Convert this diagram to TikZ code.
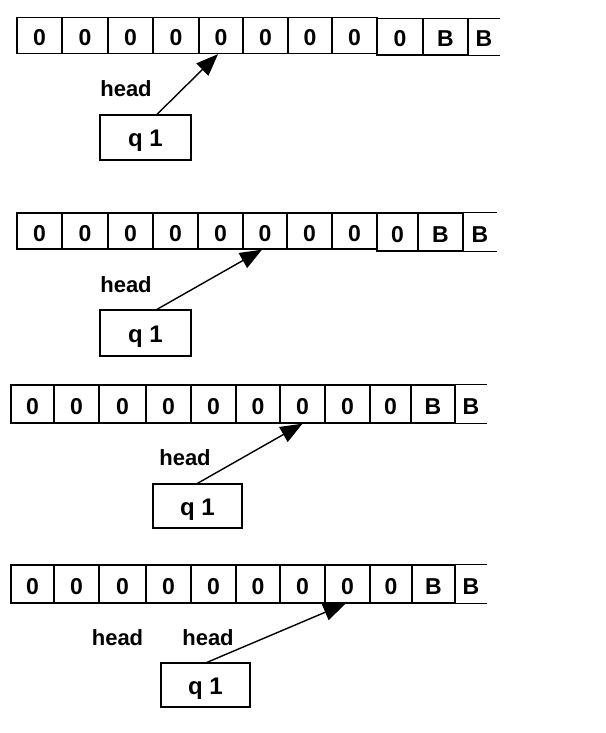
\documentclass[tikz,border=0pt]{standalone}
\usepackage{fontspec}
\setmainfont{Liberation Sans}
\usetikzlibrary{arrows.meta,calc}
\tikzset{
  cell/.style={draw, line width=1.3pt, inner sep=0pt, minimum height=#1,
    text height=25pt, text depth=5pt, font=\fontsize{23}{23}\selectfont\bfseries},
  cell/.default=36pt,
  opencell/.style={inner sep=0pt, minimum height=#1,
    text height=25pt, text depth=5pt, font=\fontsize{23}{23}\selectfont\bfseries},
  opencell/.default=36pt,
  edge/.style={line width=1.3pt},
  statebox/.style={draw, line width=1.3pt, inner sep=0pt, text height=20pt, text depth=2pt,
    font=\fontsize{24}{24}\selectfont\bfseries},
  headlbl/.style={anchor=base, inner sep=0pt, font=\fontsize{22}{22}\selectfont\bfseries},
  arr/.style={line width=1.4pt, -{Triangle[length=22pt,width=17pt]}},
}
\begin{document}
\begin{tikzpicture}[x=1pt,y=-1pt]
\useasboundingbox (0,0) rectangle (605,733);
% ---------- Row 1 ----------
\foreach \a/\b [count=\i] in {17/62,62/108,108/153,153/199,199/243,243/288,288/332,332/377}{
  \node[cell, minimum width=\b-\a] (r1c\i) at ({(\a+\b)/2},35.5) {0};
}
\node[cell=36.5pt, minimum width=46] (r1c9) at (400,36.75) {0};
\node[cell=36.5pt, minimum width=45] (r1c10) at (445.5,36.75) {B};
\node[opencell=36.5pt, minimum width=32] (r1c11) at (484,36.75) {B};
\draw[edge] (r1c11.north west) -- (r1c11.north east) (r1c11.south west) -- (r1c11.south east);
\node[statebox, minimum width=91, minimum height=45] (q1) at (145.5,137.5) {q 1};
\node[headlbl] (h1) at (126,96.5) {head};
\draw[arr] ([xshift=11.5pt]q1.north) -- ([xshift=-3pt]r1c5.south);
% ---------- Row 2 ----------
\foreach \a/\b [count=\i] in {17/62,62/108,108/153,153/198,198/243,243/287,287/332,332/377}{
  \node[cell, minimum width=\b-\a] (r2c\i) at ({(\a+\b)/2},231) {0};
}
\node[cell=38pt, minimum width=41] (r2c9) at (397.5,232) {0};
\node[cell=38pt, minimum width=45] (r2c10) at (440.5,232) {B};
\node[opencell=38pt, minimum width=34] (r2c11) at (480,232) {B};
\draw[edge] (r2c11.north west) -- (r2c11.north east) (r2c11.south west) -- (r2c11.south east);
\node[statebox, minimum width=91, minimum height=46] (q2) at (145.5,333) {q 1};
\node[headlbl] (h2) at (126,292) {head};
\draw[arr] ([xshift=11.5pt]q2.north) -- ([xshift=-3pt]r2c6.south);
% ---------- Row 3 ----------
\foreach \a/\b/\t [count=\i] in {11/54/0,54/99/0,99/146/0,146/191/0,191/236/0,236/280/0,280/325/0,325/370/0,370/411/0,411/455/B}{
  \node[cell=38pt, minimum width=\b-\a] (r3c\i) at ({(\a+\b)/2},404) {\t};
}
\node[opencell=38pt, minimum width=32] (r3c11) at (471,404) {B};
\draw[edge] (r3c11.north west) -- (r3c11.north east) (r3c11.south west) -- (r3c11.south east);
\node[statebox, minimum width=89, minimum height=44] (q3) at (197.5,506) {q 1};
\node[headlbl] (h3) at (185,465) {head};
\draw[arr] (q3.north) -- (r3c7.south);
% ---------- Row 4 ----------
\foreach \a/\b/\t [count=\i] in {11/54/0,54/99/0,99/146/0,146/191/0,191/236/0,236/280/0,280/325/0,325/370/0,370/412/0,412/455/B}{
  \node[cell=38pt, minimum width=\b-\a] (r4c\i) at ({(\a+\b)/2},584) {\t};
}
\node[opencell=38pt, minimum width=32] (r4c11) at (471,584) {B};
\draw[edge] (r4c11.north west) -- (r4c11.north east) (r4c11.south west) -- (r4c11.south east);
\node[statebox, minimum width=89, minimum height=44] (q4) at (205.5,685) {q 1};
\node[headlbl] (h4a) at (117.5,645) {head};
\node[headlbl] (h4b) at (208,645) {head};
\draw[arr] ([xshift=1.5pt]q4.north) -- ([xshift=-2pt]r4c8.south);
\end{tikzpicture}
\end{document}
